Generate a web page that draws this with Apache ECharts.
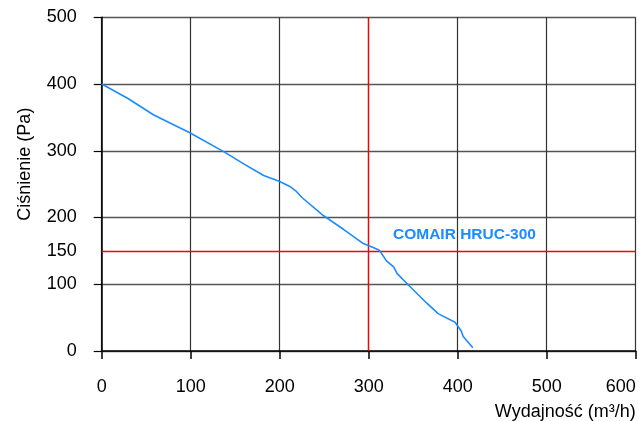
<!DOCTYPE html>
<html>
<head>
<meta charset="utf-8">
<script src="https://cdn.jsdelivr.net/npm/echarts@6.0.0/dist/echarts.min.js"></script>
<style>
html,body{margin:0;padding:0;background:#ffffff;}
#c{width:639px;height:421px;}
</style>
</head>
<body>
<div id="c"></div>
<script>
// ---- data ----
const flowValues     = [0, 30, 58, 99, 138, 160, 182, 200, 212, 218, 225, 249, 272, 294, 305, 312, 320, 328, 332, 346, 365, 378, 397, 404, 406, 417];
const pressureValues = [400, 378, 354, 327, 298, 280, 263, 254, 246, 240, 230, 203, 182, 161, 155, 151, 135, 126, 116, 97, 72, 56, 43, 30, 22, 5];
const xTickValues    = [0, 100, 200, 300, 400, 500, 600];
const yLabelValues   = [0, 100, 150, 200, 300, 400, 500];
const refFlow        = 300;
const refPressure    = 150;
const seriesName     = 'COMAIR HRUC-300';
const xAxisName      = 'Wydajność (m³/h)';
const yAxisName      = 'Ciśnienie (Pa)';

const xMin = xTickValues[0], xMax = xTickValues[xTickValues.length - 1];
const yMin = yLabelValues[0], yMax = yLabelValues[yLabelValues.length - 1];

const font = '"Liberation Sans", Arial, sans-serif';
const chart = echarts.init(document.getElementById('c'), null, {renderer: 'canvas'});

chart.setOption({
  animation: false,
  backgroundColor: '#ffffff',
  grid: {left: 101.7, right: 3.3, top: 17.3, bottom: 69, containLabel: false},
  xAxis: {
    type: 'value',
    min: xMin,
    max: xMax,
    interval: 100,
    name: xAxisName,
    nameLocation: 'end',
    nameGap: 0,
    nameTextStyle: {fontFamily: font, fontSize: 18, color: '#000', align: 'right', verticalAlign: 'top', padding: [52, 0, 0, 0]},
    axisLine: {show: true, onZero: false, lineStyle: {color: '#000', width: 1.5}},
    axisTick: {show: true, inside: false, length: 8, lineStyle: {color: '#000', width: 1.5}},
    axisLabel: {fontFamily: font, fontSize: 18, color: '#000', margin: 27, alignMaxLabel: 'right'},
    splitLine: {show: true, lineStyle: {color: '#333', width: 1.2}}
  },
  yAxis: {
    type: 'value',
    min: yMin,
    max: yMax,
    interval: 100,
    name: yAxisName,
    nameLocation: 'middle',
    nameGap: 68,
    nameRotate: 90,
    nameTextStyle: {fontFamily: font, fontSize: 18, color: '#000', padding: [0, 0, 0, 40]},
    axisLine: {show: true, onZero: false, lineStyle: {color: '#000', width: 1.5}},
    axisTick: {show: true, inside: false, length: 8, lineStyle: {color: '#000', width: 1.2}},
    axisLabel: {fontFamily: font, fontSize: 18, color: '#000', margin: 25, customValues: yLabelValues},
    splitLine: {show: true, lineStyle: {color: '#555', width: 1.4}}
  },
  series: [{
    name: seriesName,
    type: 'line',
    z: 5,
    data: flowValues.map((x, i) => [x, pressureValues[i]]),
    symbol: 'none',
    showSymbol: false,
    lineStyle: {color: '#1a8cff', width: 1.6},
    markLine: {
      silent: true,
      symbol: 'none',
      animation: false,
      label: {show: false},
      lineStyle: {color: '#ff0000', width: 1.3, type: 'solid'},
      data: [
        [{coord: [refFlow, yMin]}, {coord: [refFlow, yMax]}],
        [{coord: [xMin, refPressure]}, {coord: [xMax, refPressure]}]
      ]
    }
  }],
  graphic: [{
    type: 'text',
    left: 393,
    top: 227,
    z: 20,
    style: {text: seriesName, fill: '#1a8cff', font: 'bold 15.5px "Liberation Sans", Arial, sans-serif'}
  }]
});
</script>
</body>
</html>
